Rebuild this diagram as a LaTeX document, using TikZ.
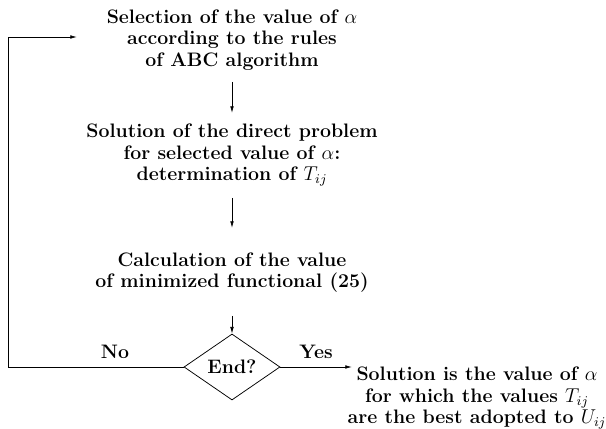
\documentclass[tikz,border=0pt]{standalone}
\usetikzlibrary{shapes.geometric,arrows.meta}
\begin{document}
\begin{tikzpicture}[x=0.6pt,y=-0.6pt,
  txt/.style={align=center,font=\fontsize{11.7}{12.7}\selectfont\bfseries,inner sep=0pt},
  arr/.style={-{Latex[length=4pt,width=2.2pt]},line width=0.45pt},
  dia/.style={diamond,draw,line width=0.45pt,minimum width=57.6pt,minimum height=39.6pt,inner sep=0pt,font=\fontsize{11.7}{12.7}\selectfont\bfseries}]
\useasboundingbox (0,0) rectangle (606,429);
\node[txt] (b1) at (232,40) {Selection of the value of $\alpha$\\according to the rules\\of ABC algorithm};
\node[txt] (b2) at (232,155) {Solution of the direct problem\\for selected value of $\alpha$:\\determination of $T_{ij}$};
\node[txt] (b3) at (232,273) {Calculation of the value\\of minimized functional (25)};
\node[dia] (d) at (232,367) {End?};
\node[txt] (res) at (477,398) {Solution is the value of $\alpha$\\for which the values $T_{ij}$\\are the best adopted to $U_{ij}$};
\node[txt] (no) at (115,352) {No};
\node[txt] (yes) at (316,352) {Yes};
\coordinate (c1) at (8,367);
\coordinate (ret) at (77,37);
\coordinate (yesend) at (352,367);
\draw[arr] (232,82) -- (232,113);
\draw[arr] (232,198) -- (232,228);
\draw[arr] (232,316) -- (d.north);
\draw[arr] (d.west) -- (c1) |- (ret);
\draw[arr] (d.east) -- (yesend);
\end{tikzpicture}
\end{document}
